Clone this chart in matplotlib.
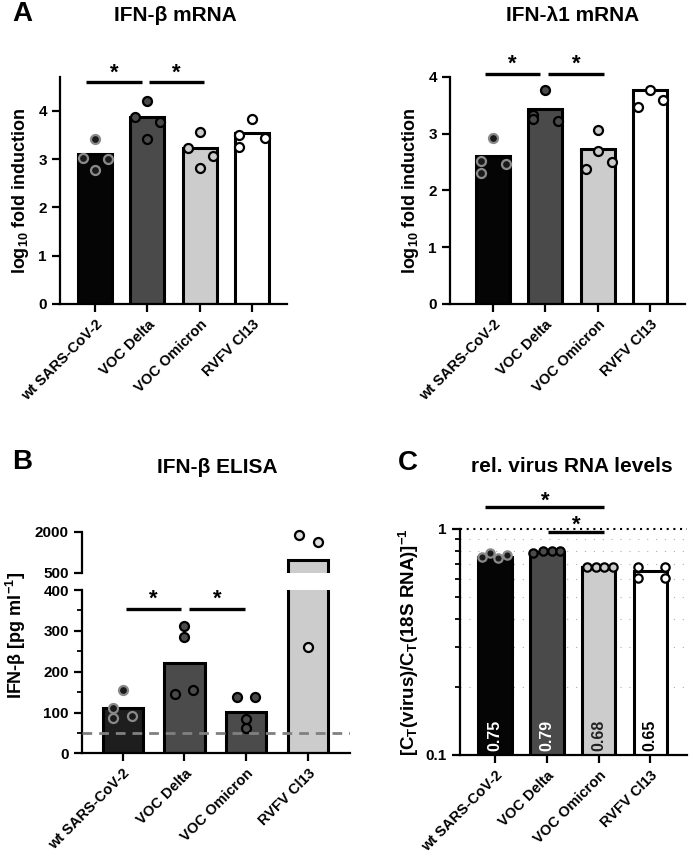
import matplotlib
matplotlib.use('Agg')
import matplotlib.pyplot as plt
from matplotlib.ticker import MultipleLocator, FixedLocator, NullFormatter

plt.rcParams['font.family'] = ['Liberation Sans', 'DejaVu Sans']
plt.rcParams['font.weight'] = 'bold'
plt.rcParams['axes.labelweight'] = 'bold'
plt.rcParams['mathtext.fontset'] = 'custom'
plt.rcParams['mathtext.rm'] = 'Liberation Sans:bold'
plt.rcParams['mathtext.it'] = 'Liberation Sans:bold'
plt.rcParams['mathtext.bf'] = 'Liberation Sans:bold'

groups = ['wt SARS-CoV-2', 'VOC Delta', 'VOC Omicron', 'RVFV Cl13']

# A left: IFN-beta mRNA
beta_bar = [3.11, 3.88, 3.24, 3.54]
beta_pts = [[3.41, 3.02, 2.78, 3.00], [4.21, 3.88, 3.76, 3.41],
            [3.57, 3.23, 3.07, 2.81], [3.83, 3.50, 3.43, 3.26]]
beta_dx = [[0, -0.24, 0, 0.24], [0, -0.23, 0.25, 0],
           [0, -0.23, 0.25, 0], [0, -0.25, 0.24, -0.25]]

# A right: IFN-lambda1 mRNA
lam_bar = [2.61, 3.43, 2.73, 3.77]
lam_pts = [[2.92, 2.52, 2.46, 2.31], [3.77, 3.33, 3.26, 3.23],
           [3.07, 2.70, 2.50, 2.38], [3.77, 3.47, 3.59]]
lam_dx = [[0, -0.22, 0.25, -0.22], [0, -0.24, -0.24, 0.24],
          [0, 0, 0.27, -0.23], [0, -0.23, 0.25]]

# B: IFN-beta ELISA (pg/ml)
elisa_bar = [110, 222, 102, 960]
elisa_pts = [[155, 112, 87, 92], [313, 284, 145, 155],
             [139, 139, 85, 61], [1879, 1634, 260]]
elisa_dx = [[0, -0.15, -0.15, 0.15], [0, 0, -0.16, 0.13],
            [-0.15, 0.14, 0, 0], [-0.15, 0.16, 0]]
elisa_lod = 50

# C: relative virus RNA levels
rna_bar = [0.75, 0.79, 0.68, 0.65]
rna_pts = [[0.754, 0.781, 0.742, 0.767], [0.781, 0.80, 0.80, 0.80],
           [0.681, 0.681, 0.681, 0.681], [0.681, 0.605, 0.681, 0.605]]
rna_dx = [[-0.26, -0.10, 0.06, 0.22], [-0.26, -0.08, 0.10, 0.26],
          [-0.22, -0.06, 0.11, 0.27], [-0.24, -0.24, 0.28, 0.28]]
rna_labels = ['0.75', '0.79', '0.68', '0.65']

bar_cols = ['#050505', '#4a4a4a', '#cccccc', '#ffffff']
pt_face = ['#1a1a1a', '#4a4a4a', '#cccccc', '#ffffff']
pt_edge = ['#8a8a8a', '#000000', '#000000', '#000000']
elisa_cols = ['#1e1e1e', '#4b4b4b', '#4b4b4b', '#cccccc']
elisa_face = ['#1a1a1a', '#4b4b4b', '#4b4b4b', '#e0e0e0']


def style(ax, xlabels=True):
    for s in ['top', 'right']:
        ax.spines[s].set_visible(False)
    for s in ['left', 'bottom']:
        ax.spines[s].set_linewidth(1.6)
    ax.tick_params(width=1.6, length=6, labelsize=11)
    ax.tick_params(which='minor', width=1.3, length=3.5)
    ax.set_xticks(range(len(groups)))
    if xlabels:
        ax.set_xticklabels(groups, rotation=45, ha='right', rotation_mode='anchor', fontsize=10.5)
    else:
        ax.set_xticklabels([])


def bars(ax, h, cols):
    ax.bar(range(len(h)), h, width=0.65, color=cols, edgecolor='black', linewidth=2.2, zorder=2)


def points(ax, pts, dxs, face, edge, s=42, lo=None, hi=None):
    for i, (vals, dx) in enumerate(zip(pts, dxs)):
        xs, ys = [], []
        for v, d in zip(vals, dx):
            if (lo is None or v >= lo) and (hi is None or v <= hi):
                xs.append(i + d)
                ys.append(v)
        ax.scatter(xs, ys, s=s, facecolor=face[i], edgecolor=edge[i], linewidth=1.6,
                   zorder=3, clip_on=False)


def sig(ax, x0, x1, y, ystar):
    ax.plot([x0, x1], [y, y], color='black', lw=2.4, clip_on=False, solid_capstyle='butt', zorder=4)
    ax.text((x0 + x1) / 2, ystar, '*', ha='center', va='center', fontsize=16,
            fontweight='bold', clip_on=False, zorder=5)


fig = plt.figure(figsize=(6.93, 8.68), dpi=100)

# ---- A left
ax1 = fig.add_axes([0.0866, 0.6498, 0.3276, 0.2615])
bars(ax1, beta_bar, bar_cols)
points(ax1, beta_pts, beta_dx, pt_face, pt_edge)
ax1.set_xlim(-0.67, 3.67)
ax1.set_ylim(0, 4.7)
ax1.set_yticks([0, 1, 2, 3, 4])
style(ax1)
ax1.set_ylabel(r'log$_{10}$ fold induction', fontsize=13, labelpad=5)
sig(ax1, -0.17, 0.89, 4.59, 4.77)
sig(ax1, 1.03, 2.09, 4.59, 4.77)

# ---- A right
ax2 = fig.add_axes([0.6494, 0.6498, 0.3391, 0.2615])
bars(ax2, lam_bar, bar_cols)
points(ax2, lam_pts, lam_dx, pt_face, pt_edge)
ax2.set_xlim(-0.82, 3.67)
ax2.set_ylim(0, 4)
ax2.set_yticks([0, 1, 2, 3, 4])
style(ax2)
ax2.set_ylabel(r'log$_{10}$ fold induction', fontsize=13, labelpad=5)
sig(ax2, -0.15, 0.89, 4.05, 4.22)
sig(ax2, 1.06, 2.12, 4.05, 4.22)

# ---- B (broken axis)
ax3 = fig.add_axes([0.1183, 0.1321, 0.3867, 0.1881])
ax3u = fig.add_axes([0.1183, 0.3402, 0.3867, 0.0472])
for a in (ax3, ax3u):
    bars(a, elisa_bar, elisa_cols)
    a.set_xlim(-0.66, 3.68)
points(ax3, elisa_pts, elisa_dx, elisa_face, pt_edge, hi=400)
points(ax3u, elisa_pts, elisa_dx, elisa_face, pt_edge, lo=500)
ax3.axhline(elisa_lod, color='#808080', lw=2, ls=(0, (3.5, 2.5)), zorder=4)
ax3.set_ylim(0, 400)
ax3.yaxis.set_major_locator(MultipleLocator(100))
ax3.yaxis.set_minor_locator(MultipleLocator(50))
style(ax3)
ax3u.set_ylim(500, 2000)
ax3u.set_yticks([500, 2000])
style(ax3u, xlabels=False)
ax3u.spines['bottom'].set_visible(False)
ax3u.tick_params(axis='x', length=0)
sig(ax3, 0.05, 0.94, 354, 378)
sig(ax3, 1.07, 1.98, 354, 378)
fig.text(0.023, 0.268, r'IFN-β [pg ml$^{-1}$]', rotation=90, ha='center', va='center',
         fontsize=13, fontweight='bold')

# ---- C
ax4 = fig.add_axes([0.6638, 0.1302, 0.3276, 0.2604])
ax4.set_yscale('log')
bars(ax4, rna_bar, bar_cols)
points(ax4, rna_pts, rna_dx, pt_face, pt_edge, s=36)
ax4.set_xlim(-0.68, 3.71)
ax4.set_ylim(0.1, 1)
ax4.yaxis.set_major_locator(FixedLocator([0.1, 1]))
ax4.set_yticklabels(['0.1', '1'])
ax4.yaxis.set_minor_locator(FixedLocator([0.2, 0.3, 0.4, 0.5, 0.6, 0.7, 0.8, 0.9]))
ax4.yaxis.set_minor_formatter(NullFormatter())
style(ax4)
ax4.grid(axis='y', which='minor', color='#b0b0b0', lw=0.8, ls=(0, (1, 7)), zorder=0)
ax4.set_axisbelow(True)
ax4.axhline(1, color='black', lw=1.5, ls=(0, (1, 2.2)), clip_on=False, zorder=1)
ax4.set_ylabel(r'[C$_{T}$(virus)/C$_{T}$(18S RNA)]$^{-1}$', fontsize=13.5, labelpad=3)
txt_cols = ['white', 'white', '#222222', 'black']
for i, lab in enumerate(rna_labels):
    ax4.text(i, 0.104, lab, rotation=90, ha='center', va='bottom', fontsize=11.5,
             fontweight='bold', color=txt_cols[i], zorder=5)
sig(ax4, -0.19, 2.11, 1.247, 1.33)
sig(ax4, 1.03, 2.11, 0.967, 1.04)

# ---- titles and panel letters
fig.text(0.2525, 0.982, 'IFN-β mRNA', ha='center', va='center', fontsize=15, fontweight='bold')
fig.text(0.827, 0.982, 'IFN-λ1 mRNA', ha='center', va='center', fontsize=15, fontweight='bold')
fig.text(0.313, 0.461, 'IFN-β ELISA', ha='center', va='center', fontsize=15, fontweight='bold')
fig.text(0.825, 0.462, 'rel. virus RNA levels', ha='center', va='center', fontsize=15, fontweight='bold')
fig.text(0.032, 0.984, 'A', ha='center', va='center', fontsize=20, fontweight='bold')
fig.text(0.032, 0.468, 'B', ha='center', va='center', fontsize=20, fontweight='bold')
fig.text(0.589, 0.467, 'C', ha='center', va='center', fontsize=20, fontweight='bold')

fig.savefig('out.png', dpi=100)
